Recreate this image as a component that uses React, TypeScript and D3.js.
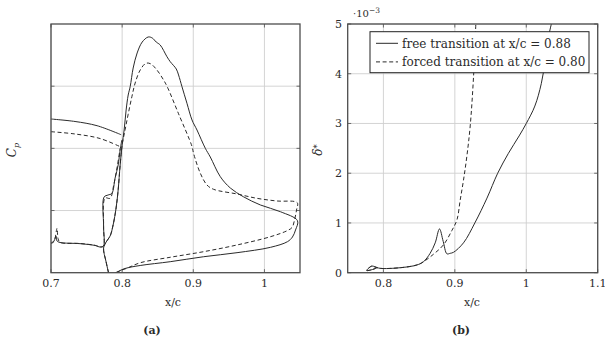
import * as d3 from "d3"

type Pt = [number, number]

// ---- panel (a): Cp over x/c (y axis reversed, no tick labels) ----
const cpTicksX = [0.7, 0.8, 0.9, 1.0]
const cpTickLabels = ["0.7", "0.8", "0.9", "1"]
const cpGrid = [-2, -1, 0]

const freeMainUpper: Pt[] = [[0.7, -1.472], [0.7338, -1.432], [0.7648, -1.364], [0.7986, -1.219]]
const freeMainLower: Pt[] = [
  [0.7, 0.522], [0.7042, 0.49], [0.707, 0.41], [0.7085, 0.49], [0.7127, 0.514], [0.7408, 0.533],
  [0.762, 0.562], [0.769, 0.587], [0.7737, 0.571], [0.7739, 0.25], [0.7746, -0.217], [0.7803, -0.25],
  [0.7855, -0.274], [0.7901, -0.523], [0.7944, -0.732], [0.7972, -0.973], [0.7996, -1.134],
]
const freeFlap: Pt[] = [
  [0.7859, 1.198], [0.7817, 1.037], [0.7775, 0.828], [0.7739, 0.603], [0.7775, 0.506], [0.7831, 0.41],
  [0.7873, 0.233], [0.7915, -0.041], [0.7944, -0.33], [0.7972, -0.732], [0.8, -1.054], [0.8028, -1.295],
  [0.8056, -1.617], [0.8085, -1.858], [0.8113, -1.992], [0.8155, -2.292], [0.8211, -2.534], [0.8282, -2.71],
  [0.8366, -2.791], [0.8423, -2.775], [0.8479, -2.71], [0.8535, -2.662], [0.863, -2.474], [0.8676, -2.394],
  [0.8761, -2.276], [0.8793, -2.18], [0.8841, -1.992], [0.8911, -1.725], [0.8982, -1.456], [0.9052, -1.295],
  [0.9169, -1.001], [0.9239, -0.861], [0.938, -0.544], [0.9521, -0.362], [0.9704, -0.222], [0.9944, -0.089],
  [1.0225, 0.019], [1.0465, 0.164], [1.0437, 0.313], [1.0394, 0.426], [1.0324, 0.501], [1.0085, 0.592],
  [0.9615, 0.678], [0.9145, 0.743], [0.8676, 0.823], [0.8254, 0.884], [0.8042, 0.932], [0.7944, 0.981],
  [0.7887, 1.021], [0.7859, 1.198],
]
const forcedMainUpper: Pt[] = [[0.7, -1.268], [0.7338, -1.231], [0.769, -1.158], [0.7972, -1.027]]
const forcedMainLower: Pt[] = [
  [0.7, 0.53], [0.7042, 0.5], [0.7085, 0.286], [0.7099, 0.45], [0.7127, 0.51], [0.7408, 0.53],
  [0.762, 0.56], [0.769, 0.585], [0.7737, 0.57], [0.7739, 0.26], [0.776, -0.2], [0.7831, -0.197],
  [0.788, -0.4], [0.793, -0.7], [0.7972, -1.0],
]
const forcedFlap: Pt[] = [
  [0.7859, 1.198], [0.7817, 1.037], [0.7775, 0.828], [0.7739, 0.603], [0.7775, 0.506], [0.7831, 0.41],
  [0.7873, 0.233], [0.7915, -0.041], [0.7944, -0.33], [0.7972, -0.732], [0.8, -1.054], [0.8042, -1.3],
  [0.8085, -1.55], [0.8137, -1.831], [0.8183, -2.051], [0.8254, -2.26], [0.8334, -2.368], [0.84, -2.36],
  [0.8489, -2.26], [0.8582, -2.1], [0.8634, -1.99], [0.8793, -1.556], [0.8982, -1.03], [0.9004, -0.92],
  [0.9099, -0.599], [0.9193, -0.41], [0.9286, -0.341], [0.9615, -0.266], [0.9897, -0.196], [1.0179, -0.153],
  [1.0461, -0.126], [1.0451, -0.008], [1.0423, 0.152], [1.039, 0.27], [1.032, 0.324], [1.0085, 0.421],
  [0.9615, 0.554], [0.9145, 0.662], [0.8676, 0.752], [0.8254, 0.84], [0.8066, 0.929], [0.7972, 0.968],
  [0.7887, 1.03], [0.7859, 1.198],
]

// ---- panel (b): displacement thickness, units of 1e-3 ----
const dTicksX = [0.8, 0.9, 1.0, 1.1]
const dTickLabelsX = ["0.8", "0.9", "1", "1.1"]
const dTicksY = [0, 1, 2, 3, 4, 5]

const freeDelta: Pt[] = [
  [0.7907, 0.1], [0.785, 0.065], [0.7766, 0.045], [0.78, 0.1], [0.7837, 0.135], [0.788, 0.12],
  [0.7953, 0.088], [0.8234, 0.1], [0.8468, 0.155], [0.856, 0.22], [0.8654, 0.39], [0.8725, 0.6],
  [0.8785, 0.88], [0.8837, 0.63], [0.8889, 0.38], [0.8935, 0.39], [0.8981, 0.41], [0.9121, 0.6],
  [0.928, 1.0], [0.945, 1.5], [0.96, 2.0], [0.975, 2.4], [0.99, 2.75], [1.0, 3.0], [1.012, 3.35],
  [1.021, 3.8], [1.027, 4.3], [1.032, 4.8], [1.036, 5.05],
]
const forcedDelta: Pt[] = [
  [0.7907, 0.1], [0.785, 0.065], [0.7766, 0.045], [0.78, 0.1], [0.7837, 0.13], [0.788, 0.115],
  [0.7953, 0.088], [0.8234, 0.1], [0.8468, 0.155], [0.856, 0.22], [0.87, 0.37], [0.8841, 0.56],
  [0.8959, 0.85], [0.9029, 1.06], [0.9075, 1.46], [0.9121, 1.86], [0.9169, 2.35], [0.9215, 2.95],
  [0.9262, 3.95], [0.9295, 5.05],
]
const legendLabels = ["free transition at x/c = 0.88", "forced transition at x/c = 0.80"]

const FONT = "DejaVu Serif"
const frameColor = "#4d4d4d"
const gridColor = "#cfcfcf"
const lineColor = "#2a2a2a"
const DASH = "4,2.6"

function Frame({ x, y, gx, gy, id }: {
  x: d3.ScaleLinear<number, number>, y: d3.ScaleLinear<number, number>,
  gx: number[], gy: number[], id: string
}) {
  const [x0, x1] = x.range()
  const [y0, y1] = y.range() // y0 = bottom
  return (
    <g>
      <defs>
        <clipPath id={id}>
          <rect x={x0} y={y1} width={x1 - x0} height={y0 - y1} />
        </clipPath>
      </defs>
      {gx.map((v) => (
        <line key={"gx" + v} x1={x(v)} x2={x(v)} y1={y0} y2={y1} stroke={gridColor} strokeWidth={0.9} />
      ))}
      {gy.map((v) => (
        <line key={"gy" + v} x1={x0} x2={x1} y1={y(v)} y2={y(v)} stroke={gridColor} strokeWidth={0.9} />
      ))}
      {gx.map((v) => (
        <g key={"tx" + v}>
          <line x1={x(v)} x2={x(v)} y1={y0} y2={y0 - 3.5} stroke={frameColor} strokeWidth={0.8} />
          <line x1={x(v)} x2={x(v)} y1={y1} y2={y1 + 3.5} stroke={frameColor} strokeWidth={0.8} />
        </g>
      ))}
      {gy.map((v) => (
        <g key={"ty" + v}>
          <line x1={x0} x2={x0 + 3.5} y1={y(v)} y2={y(v)} stroke={frameColor} strokeWidth={0.8} />
          <line x1={x1} x2={x1 - 3.5} y1={y(v)} y2={y(v)} stroke={frameColor} strokeWidth={0.8} />
        </g>
      ))}
    </g>
  )
}

function Border({ x, y }: { x: d3.ScaleLinear<number, number>, y: d3.ScaleLinear<number, number> }) {
  const [x0, x1] = x.range()
  const [y0, y1] = y.range()
  return <rect x={x0} y={y1} width={x1 - x0} height={y0 - y1} fill="none" stroke={frameColor} strokeWidth={1.3} />
}

export default function App() {
  const top = 24, bottom = 272.7

  const xa = d3.scaleLinear().domain([0.7, 1.05]).range([51, 300])
  const ya = d3.scaleLinear().domain([1, -3]).range([bottom, top])
  const xb = d3.scaleLinear().domain([0.75, 1.1]).range([347.7, 597.7])
  const yb = d3.scaleLinear().domain([0, 5]).range([bottom, top])

  const la = d3.line<Pt>().x((d) => xa(d[0])).y((d) => ya(d[1])).curve(d3.curveCatmullRom.alpha(0.5))
  const lb = d3.line<Pt>().x((d) => xb(d[0])).y((d) => yb(d[1])).curve(d3.curveCatmullRom.alpha(0.5))

  const textStyle = { fontFamily: FONT, fill: "#2b2b2b" }

  return (
    <svg width={605} height={345} style={{ position: "absolute", left: 0, top: 0, background: "#fff" }}>
      {/* panel (a) */}
      <Frame x={xa} y={ya} gx={cpTicksX} gy={cpGrid} id="clipA" />
      <g clipPath="url(#clipA)" fill="none" stroke={lineColor} strokeWidth={1}>
        <path d={la(freeMainUpper) ?? ""} />
        <path d={la(freeMainLower) ?? ""} />
        <path d={la(freeFlap) ?? ""} />
        <path d={la(forcedMainUpper) ?? ""} strokeDasharray={DASH} />
        <path d={la(forcedMainLower) ?? ""} strokeDasharray={DASH} />
        <path d={la(forcedFlap) ?? ""} strokeDasharray={DASH} />
      </g>
      <Border x={xa} y={ya} />
      {cpTicksX.map((v, i) => (
        <text key={"la" + v} x={xa(v)} y={287} textAnchor="middle" fontSize={11} style={textStyle}>
          {cpTickLabels[i]}
        </text>
      ))}
      <text x={173} y={306} textAnchor="middle" fontSize={11} style={textStyle}>x/c</text>
      <text transform="translate(16,150) rotate(-90)" textAnchor="middle" fontSize={12} style={textStyle}>
        <tspan fontStyle="italic">C</tspan>
        <tspan fontStyle="italic" fontSize={8} dy={3}>p</tspan>
      </text>
      <text x={152} y={334} textAnchor="middle" fontSize={11} fontWeight="bold" style={textStyle}>(a)</text>

      {/* panel (b) */}
      <Frame x={xb} y={yb} gx={dTicksX} gy={dTicksY} id="clipB" />
      <g clipPath="url(#clipB)" fill="none" stroke={lineColor} strokeWidth={1}>
        <path d={lb(freeDelta) ?? ""} />
        <path d={lb(forcedDelta) ?? ""} strokeDasharray={DASH} />
      </g>
      <Border x={xb} y={yb} />
      {dTicksX.map((v, i) => (
        <text key={"lbx" + v} x={xb(v)} y={287} textAnchor="middle" fontSize={11} style={textStyle}>
          {dTickLabelsX[i]}
        </text>
      ))}
      {dTicksY.map((v) => (
        <text key={"lby" + v} x={342} y={yb(v)} dy="0.35em" textAnchor="end" fontSize={11} style={textStyle}>
          {v}
        </text>
      ))}
      <text x={353} y={17} fontSize={10} style={textStyle}>
        ·10<tspan fontSize={7.5} dy={-4}>−3</tspan>
      </text>
      <text x={472} y={306} textAnchor="middle" fontSize={11} style={textStyle}>x/c</text>
      <text transform="translate(322,150) rotate(-90)" textAnchor="middle" fontSize={12} style={textStyle}>
        <tspan fontStyle="italic">δ</tspan>
        <tspan fontSize={9} dy={-2}>*</tspan>
      </text>
      <text x={461} y={334} textAnchor="middle" fontSize={11} fontWeight="bold" style={textStyle}>(b)</text>

      {/* legend */}
      <g>
        <rect x={370} y={31.7} width={219} height={41} fill="#fff" stroke="#222" strokeWidth={1} />
        {legendLabels.map((t, i) => {
          const ly = 43.3 + i * 18.6
          return (
            <g key={t}>
              <line x1={376} x2={398} y1={ly} y2={ly} stroke={lineColor} strokeWidth={1}
                strokeDasharray={i === 1 ? DASH : undefined} />
              <text x={402} y={ly} dy="0.35em" fontSize={12} style={textStyle}>{t}</text>
            </g>
          )
        })}
      </g>
    </svg>
  )
}
